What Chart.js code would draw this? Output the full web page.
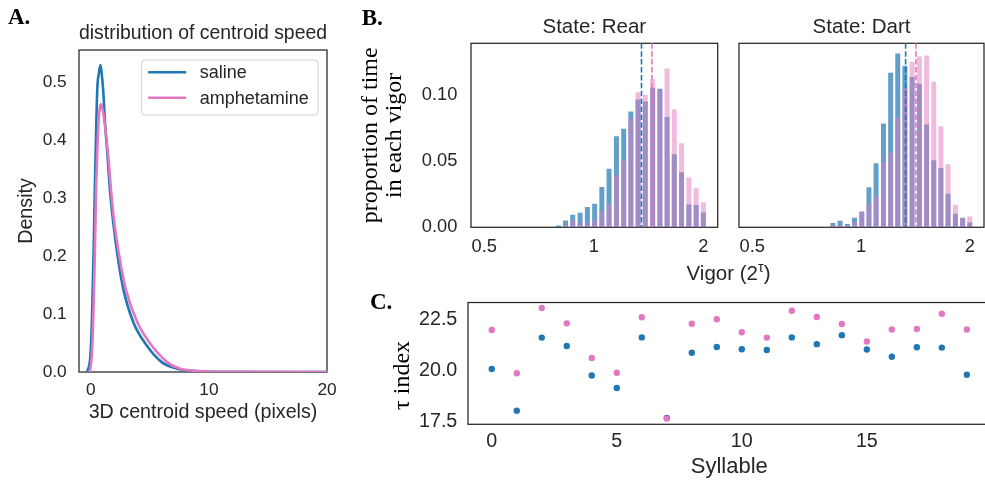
<!DOCTYPE html>
<html><head><meta charset="utf-8">
<script src="https://cdn.jsdelivr.net/npm/chart.js@4.4.1/dist/chart.umd.min.js"></script>
<style>
html,body{margin:0;padding:0;background:#fff;}
body{width:985px;height:480px;overflow:hidden;position:relative;}
.box{position:absolute;}
.letter{position:absolute;font-family:'Liberation Serif','Times New Roman',serif;font-weight:bold;font-size:23px;line-height:23px;color:#000;white-space:nowrap;}
#vigorLabel{position:absolute;left:728.5px;top:262.6px;transform:translateX(-50%);font-family:'Liberation Sans',Arial,sans-serif;font-size:20.5px;line-height:20.5px;color:#262626;white-space:nowrap;}
#vigorLabel sup{font-size:70%;line-height:0;vertical-align:0.55em;}
</style></head><body>
<div class="box" style="left:0;top:0;width:345px;height:480px"><canvas id="cA" width="345" height="480"></canvas></div>
<div class="box" style="left:340px;top:0;width:390px;height:260px"><canvas id="cRear" width="390" height="260"></canvas></div>
<div class="box" style="left:720px;top:0;width:280px;height:260px"><canvas id="cDart" width="280" height="260"></canvas></div>
<div class="box" style="left:340px;top:280px;width:680px;height:200px"><canvas id="cC" width="680" height="200"></canvas></div>
<div class="letter" style="left:8px;top:4.7px">A.</div>
<div class="letter" style="left:361.7px;top:5.7px">B.</div>
<div class="letter" style="left:370px;top:290px">C.</div>
<div id="vigorLabel">Vigor (2<sup>τ</sup>)</div>
<script>
// ---------- data ----------
// Panel A: KDE of 3D centroid speed
const speedSaline   = [-0.3, -0.03, 0.09, 0.23, 0.34, 0.47, 0.55, 0.68, 0.82, 0.93, 1.04, 1.2, 1.41, 1.61, 1.89, 2.26, 2.74, 3.59, 4.72, 6.0, 7.26, 8.5, 10, 20];
const densitySaline = [0, 0.029, 0.086, 0.201, 0.316, 0.431, 0.488, 0.515, 0.529, 0.512, 0.488, 0.431, 0.374, 0.316, 0.259, 0.201, 0.144, 0.086, 0.046, 0.017, 0.006, 0.002, 0.0005, 0];
const speedAmph     = [-0.08, 0.085, 0.2, 0.34, 0.45, 0.54, 0.65, 0.76, 0.87, 1.0, 1.16, 1.47, 1.7, 1.98, 2.4, 2.94, 3.93, 5.14, 6.47, 7.5, 8.8, 10.5, 20];
const densityAmph   = [0, 0.029, 0.086, 0.201, 0.316, 0.374, 0.431, 0.455, 0.461, 0.452, 0.431, 0.374, 0.316, 0.259, 0.201, 0.144, 0.086, 0.046, 0.017, 0.006, 0.002, 0.0005, 0];
const speedTicks    = [0, 10, 20];
const densityTicks  = [0, 0.1, 0.2, 0.3, 0.4, 0.5];

// Panel B: vigor histograms (bin centres, proportion of time)
const vigorBins  = [0.799, 0.836, 0.875, 0.917, 0.960, 1.005, 1.052, 1.101, 1.154, 1.208, 1.264, 1.323, 1.385, 1.451, 1.519, 1.590, 1.664, 1.742, 1.825, 1.911, 2.000];
const rearSaline = [0.0014, 0.0052, 0.0095, 0.011, 0.0153, 0.0179, 0.0305, 0.0444, 0.069, 0.0747, 0.0878, 0.0969, 0.0954, 0.1055, 0.105, 0.0836, 0.0554, 0.0418, 0.0172, 0.0168, 0.0112];
const rearAmph   = [0, 0.0014, 0.0052, 0.0034, 0.0032, 0.0052, 0.0123, 0.0173, 0.0393, 0.0507, 0.0827, 0.1024, 0.1004, 0.1122, 0.1044, 0.1203, 0.0894, 0.0636, 0.0378, 0.0295, 0.019];
const dartSaline = [0, 0.0032, 0.005, 0.0025, 0.0073, 0.0117, 0.0303, 0.0485, 0.0787, 0.117, 0.1317, 0.1223, 0.1139, 0.1087, 0.0778, 0.0508, 0.0449, 0.0254, 0.0102, 0.0072, 0.0036];
const dartAmph   = [0, 0.0013, 0.0015, 0.0015, 0.0041, 0.0121, 0.0181, 0.0233, 0.049, 0.0565, 0.0827, 0.1047, 0.1252, 0.1294, 0.1302, 0.1102, 0.0766, 0.0478, 0.017, 0.0068, 0.0081];
const rearMeans  = [1.352, 1.444];   // saline, amphetamine
const dartMeans  = [1.329, 1.419];   // saline, amphetamine
const vigorTicks = [0.5, 1, 2];
const propTicks  = [0, 0.05, 0.10];

// Panel C: tau index per syllable
const syllables  = [0, 1, 2, 3, 4, 5, 6, 7, 8, 9, 10, 11, 12, 13, 14, 15, 16, 17, 18, 19];
const tauSaline  = [20.06, 18.02, 21.60, 21.19, 19.74, 19.13, 21.61, 17.66, 20.86, 21.14, 21.03, 20.99, 21.61, 21.28, 21.72, 21.02, 20.66, 21.13, 21.11, 19.78];
const tauAmph    = [21.97, 19.85, 23.05, 22.30, 20.60, 19.88, 22.60, 17.63, 22.28, 22.50, 21.86, 21.60, 22.92, 22.61, 22.27, 21.41, 22.00, 22.02, 22.77, 22.00];
const syllableTicks = [0, 5, 10, 15];
const tauTicks   = [17.5, 20.0, 22.5];

// ---------- styles ----------
const INK = '#262626';
const BLUE = '#1f77b4', PINK = '#e377c2';
const BLUE_FILL = 'rgba(31,119,180,0.7)', PINK_FILL = 'rgba(227,119,194,0.5)';
const SANS = "'Liberation Sans', Arial, sans-serif";
const SERIF = "'Liberation Serif', 'Times New Roman', serif";
Chart.defaults.font.family = SANS;
Chart.defaults.color = INK;

const frame = {
  id: 'frame',
  beforeDatasetsDraw(chart) {
    const {ctx, chartArea: a} = chart;
    ctx.save();
    ctx.strokeStyle = INK; ctx.lineWidth = 1.25;
    ctx.strokeRect(a.left, a.top, a.right - a.left, a.bottom - a.top);
    ctx.restore();
  }
};
function makeMeanLines(values, colors) {
  return {
    id: 'meanLines',
    afterDatasetsDraw(chart) {
      const {ctx, chartArea: a, scales: {x}} = chart;
      ctx.save();
      ctx.lineWidth = 1.6; ctx.setLineDash([5.5, 2.4]);
      values.forEach((v, i) => {
        const px = x.getPixelForValue(v);
        ctx.strokeStyle = colors[i];
        ctx.beginPath(); ctx.moveTo(px, a.top); ctx.lineTo(px, a.bottom); ctx.stroke();
      });
      ctx.restore();
    }
  };
}
const insetLegend = {
  id: 'insetLegend',
  afterDatasetsDraw(chart) {
    const {ctx, chartArea: a} = chart;
    const x = a.left + 62.7, y = a.top + 10, w = 176.3, h = 55, r = 3;
    ctx.save();
    ctx.beginPath();
    ctx.moveTo(x + r, y); ctx.lineTo(x + w - r, y); ctx.arcTo(x + w, y, x + w, y + r, r);
    ctx.lineTo(x + w, y + h - r); ctx.arcTo(x + w, y + h, x + w - r, y + h, r);
    ctx.lineTo(x + r, y + h); ctx.arcTo(x, y + h, x, y + h - r, r);
    ctx.lineTo(x, y + r); ctx.arcTo(x, y, x + r, y, r); ctx.closePath();
    ctx.fillStyle = 'rgba(255,255,255,0.8)'; ctx.fill();
    ctx.strokeStyle = '#d0d0d0'; ctx.lineWidth = 1; ctx.stroke();
    chart.data.datasets.forEach((ds, i) => {
      const ly = y + 12.3 + i * 25.4;
      ctx.strokeStyle = ds.borderColor; ctx.lineWidth = 2.6; ctx.lineCap = 'butt';
      ctx.beginPath(); ctx.moveTo(x + 6.5, ly); ctx.lineTo(x + 44.5, ly); ctx.stroke();
      ctx.fillStyle = INK; ctx.font = '18px ' + SANS; ctx.textBaseline = 'middle'; ctx.textAlign = 'left';
      ctx.fillText(ds.label, x + 58, ly + 1);
    });
    ctx.restore();
  }
};
const setTicks = arr => s => { s.ticks = arr.map(v => ({value: v})); };
const noGrid = {display: false, drawTicks: false};
const noBorder = {display: false};
const base = {responsive: false, animation: false, devicePixelRatio: 1, events: []};

// ---------- Panel A ----------
new Chart(document.getElementById('cA'), {
  type: 'scatter',
  data: {datasets: [
    {label: 'saline', data: speedSaline.map((x, i) => ({x, y: densitySaline[i]})), showLine: true,
     borderColor: BLUE, borderWidth: 2.6, pointRadius: 0, cubicInterpolationMode: 'monotone', order: 1},
    {label: 'amphetamine', data: speedAmph.map((x, i) => ({x, y: densityAmph[i]})), showLine: true,
     borderColor: PINK, borderWidth: 2.6, pointRadius: 0, cubicInterpolationMode: 'monotone', order: 0}
  ]},
  options: Object.assign({}, base, {
    layout: {autoPadding: false, padding: {left: 0, right: 18, top: 0, bottom: 0}},
    plugins: {
      legend: {display: false}, tooltip: {enabled: false},
      title: {display: true, text: 'distribution of centroid speed', color: INK, fullSize: false,
              font: {size: 19.6, weight: 'normal'}, padding: {top: 22.25, bottom: 4.25}}
    },
    scales: {
      x: {type: 'linear', min: -1, max: 20, grid: noGrid, border: noBorder,
          afterBuildTicks: setTicks(speedTicks), afterFit: s => { s.height = 108; },
          ticks: {color: INK, font: {size: 17.3}, padding: 8.3, maxRotation: 0, autoSkip: false, callback: v => String(v)},
          title: {display: true, text: '3D centroid speed (pixels)', color: INK, font: {size: 19.7}, padding: {top: 0, bottom: 56}}},
      y: {type: 'linear', min: 0, max: 0.5547, grid: noGrid, border: noBorder,
          afterBuildTicks: setTicks(densityTicks), afterFit: s => { s.width = 79; },
          ticks: {color: INK, font: {size: 17.3}, padding: 12.3, autoSkip: false, callback: v => v.toFixed(1)},
          title: {display: true, text: 'Density', color: INK, font: {size: 19.7}, padding: {top: 14.7, bottom: 0}}}
    }
  }),
  plugins: [frame, insetLegend]
});

// ---------- Panel B ----------
const VIGOR_MIN = 0.4596, VIGOR_MAX = 2.19, PROP_MAX = 0.1394;
function makeHist(id, title, saline, amph, means, withY, pad) {
  return new Chart(document.getElementById(id), {
    type: 'bar',
    data: {datasets: [
      {label: 'amphetamine', data: vigorBins.map((x, i) => ({x, y: amph[i]})), backgroundColor: PINK_FILL,
       borderWidth: 0, grouped: false, barPercentage: 0.7, categoryPercentage: 1, order: 0},
      {label: 'saline', data: vigorBins.map((x, i) => ({x, y: saline[i]})), backgroundColor: BLUE_FILL,
       borderWidth: 0, grouped: false, barPercentage: 0.7, categoryPercentage: 1, order: 1}
    ]},
    options: Object.assign({}, base, {
      layout: {autoPadding: false, padding: pad},
      plugins: {
        legend: {display: false}, tooltip: {enabled: false},
        title: {display: true, text: title, color: INK, fullSize: false,
                font: {size: 20.5, weight: 'normal'}, padding: {top: 14.9, bottom: 3.8}}
      },
      scales: {
        x: {type: 'logarithmic', min: VIGOR_MIN, max: VIGOR_MAX, offset: false, bounds: 'data',
            grid: noGrid, border: noBorder,
            afterBuildTicks: setTicks(vigorTicks), afterFit: s => { s.height = 32.7; },
            ticks: {color: INK, font: {size: 18.3}, padding: 8.7, maxRotation: 0, autoSkip: false, callback: v => String(v)}},
        y: {type: 'linear', min: 0, max: PROP_MAX, display: withY, grid: noGrid, border: noBorder,
            afterBuildTicks: setTicks(propTicks), afterFit: s => { s.width = withY ? 131 : 0; },
            ticks: {color: INK, font: {size: 18.3}, padding: 13.7, autoSkip: false, callback: v => v.toFixed(2)},
            title: {display: withY, text: ['proportion of time', 'in each vigor'], color: '#000',
                    font: {family: SERIF, size: 24, lineHeight: '24px'}, padding: {top: 19, bottom: 0}}}
      }
    }),
    plugins: [frame, makeMeanLines(means, [BLUE, PINK])]
  });
}
makeHist('cRear', 'State: Rear', rearSaline, rearAmph, rearMeans, true, {left: 0, right: 12.3, top: 0, bottom: 0});
makeHist('cDart', 'State: Dart', dartSaline, dartAmph, dartMeans, false, {left: 19, right: 16, top: 0, bottom: 0});

// ---------- Panel C ----------
new Chart(document.getElementById('cC'), {
  type: 'scatter',
  data: {datasets: [
    {label: 'amphetamine', data: syllables.map((x, i) => ({x, y: tauAmph[i]})), backgroundColor: PINK,
     pointRadius: 3.2, borderWidth: 0, order: 0},
    {label: 'saline', data: syllables.map((x, i) => ({x, y: tauSaline[i]})), backgroundColor: BLUE,
     pointRadius: 3.2, borderWidth: 0, order: 1}
  ]},
  options: Object.assign({}, base, {
    layout: {autoPadding: false, padding: {left: 0, right: 29.4, top: 16.7, bottom: 0}},
    plugins: {legend: {display: false}, tooltip: {enabled: false}},
    scales: {
      x: {type: 'linear', min: -0.95, max: 19.95, grid: noGrid, border: noBorder,
          afterBuildTicks: setTicks(syllableTicks), afterFit: s => { s.height = 55.7; },
          ticks: {color: INK, font: {size: 19.7}, padding: 5.4, maxRotation: 0, autoSkip: false, callback: v => String(v)},
          title: {display: true, text: 'Syllable', color: INK, font: {size: 22}, padding: {top: 0, bottom: 0}}},
      y: {type: 'linear', min: 17.35, max: 23.32, grid: noGrid, border: noBorder,
          afterBuildTicks: setTicks(tauTicks), afterFit: s => { s.width = 128; },
          ticks: {color: INK, font: {size: 19.7}, padding: 10.7, autoSkip: false, callback: v => v.toFixed(1)},
          title: {display: true, text: 'τ index\u2003', color: '#000', font: {family: SERIF, size: 24}, padding: {top: 48.5, bottom: 0}}}
    }
  }),
  plugins: [frame]
});
</script>
</body></html>
